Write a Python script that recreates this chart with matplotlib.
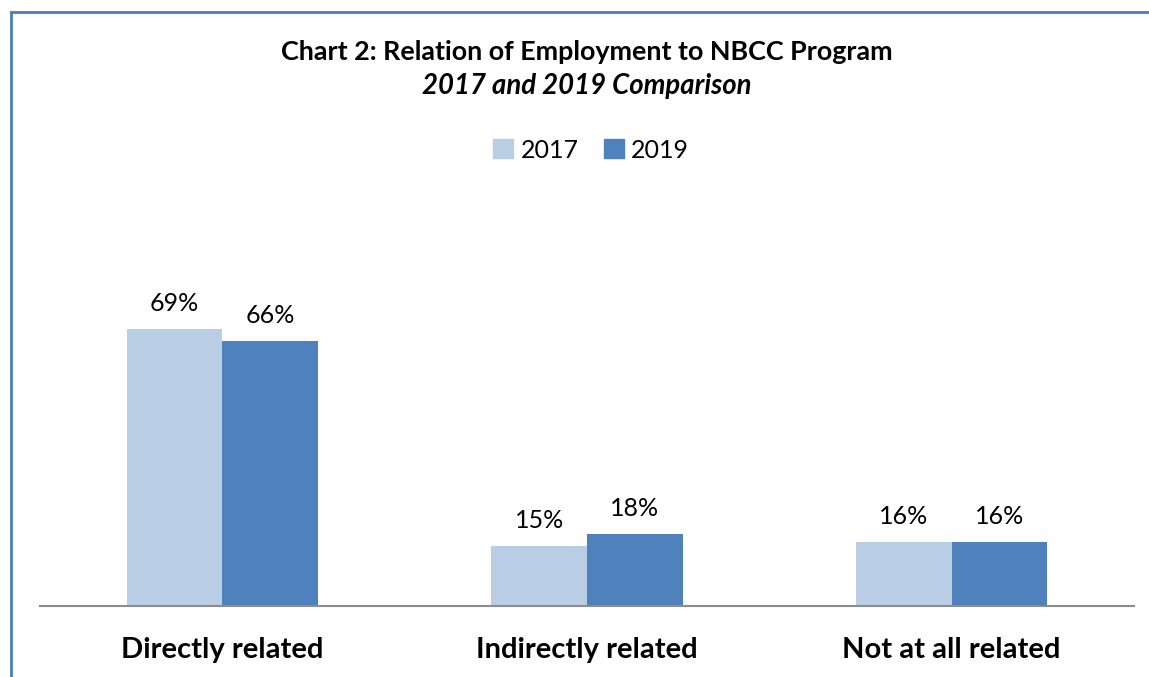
"""Chart 2: Relation of Employment to NBCC Program, 2017 vs 2019."""
import matplotlib
matplotlib.use("Agg")
import matplotlib.pyplot as plt
import numpy as np
from matplotlib.lines import Line2D
from matplotlib.patches import Patch

categories = ["Directly related", "Indirectly related", "Not at all related"]
years = ["2017", "2019"]
vals_2017 = [69, 15, 16]
vals_2019 = [66, 18, 16]

C17 = "#B9CDE5"
C19 = "#4F81BD"

plt.rcParams["font.family"] = ["Lato", "DejaVu Sans"]

fig = plt.figure(figsize=(11.49, 6.77), dpi=100)
W, H = 1149, 677

# plot area in pixel coords: baseline at y=606, 100% at y=205
ax = fig.add_axes([40 / W, 1 - 606 / H, 1094 / W, 401 / H])
x = np.arange(len(categories))
bw = 0.262
b1 = ax.bar(x - bw / 2, vals_2017, bw, color=C17, label=years[0])
b2 = ax.bar(x + bw / 2, vals_2019, bw, color=C19, label=years[1])
for bars in (b1, b2):
    for r in bars:
        ax.annotate(f"{r.get_height():.0f}%",
                    (r.get_x() + r.get_width() / 2, r.get_height()),
                    xytext=(0, 10), textcoords="offset points",
                    ha="center", va="bottom", fontsize=18)

ax.set_xlim(-0.5, 2.5)
ax.set_ylim(0, 100)
ax.set_yticks([])
ax.set_xticks(x)
ax.set_xticklabels(categories, fontsize=21, fontweight="bold")
ax.tick_params(axis="x", length=0, pad=22)
for s in ("top", "right", "left"):
    ax.spines[s].set_visible(False)
ax.spines["bottom"].set_color("#8C8C8C")
ax.spines["bottom"].set_linewidth(1.5)

cx = 587 / W
fig.text(cx, 1 - 52 / H, "Chart 2: Relation of Employment to NBCC Program",
         ha="center", va="center", fontsize=19.4, fontweight="bold")
fig.text(cx, 1 - 86 / H, "2017 and 2019 Comparison",
         ha="center", va="center", fontsize=19.8, fontweight="bold",
         style="italic")

handles = [Patch(color=C17), Patch(color=C19)]
fig.legend(handles, years, loc="center", bbox_to_anchor=(591 / W, 1 - 150 / H),
           ncol=2, frameon=False, fontsize=18, handlelength=0.8,
           handleheight=0.8, handletextpad=0.3, columnspacing=1.0)

# blue frame on top and left edge
fig.add_artist(Line2D([11 / W, 1], [1 - 12 / H] * 2, color="#4A7EBB",
                      lw=2, transform=fig.transFigure))
fig.add_artist(Line2D([11 / W] * 2, [0, 1 - 12 / H], color="#4A7EBB",
                      lw=2, transform=fig.transFigure))

fig.savefig("out.png", dpi=100)
